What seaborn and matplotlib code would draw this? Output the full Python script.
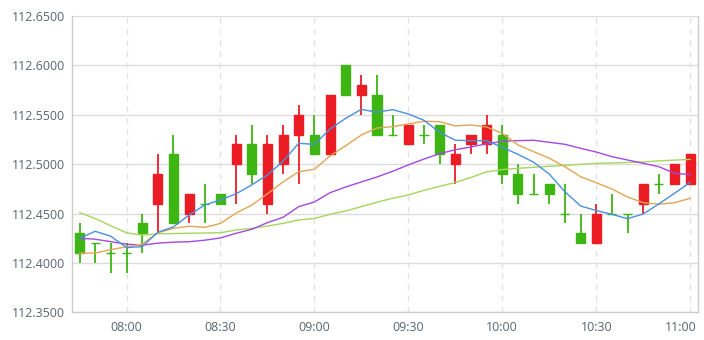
import numpy as np
import pandas as pd
import matplotlib
matplotlib.use("Agg")
import matplotlib.pyplot as plt
import matplotlib.transforms as mtransforms
import seaborn as sns

# ---- data ----
times = ["07:45", "07:50", "07:55", "08:00", "08:05", "08:10", "08:15", "08:20", "08:25", "08:30",
         "08:35", "08:40", "08:45", "08:50", "08:55", "09:00", "09:05", "09:10", "09:15", "09:20",
         "09:25", "09:30", "09:35", "09:40", "09:45", "09:50", "09:55", "10:00", "10:05", "10:10",
         "10:15", "10:20", "10:25", "10:30", "10:35", "10:40", "10:45", "10:50", "10:55", "11:00"]

open_ = [112.43, 112.42, 112.41, 112.41, 112.44, 112.46, 112.51, 112.45, 112.46, 112.47,
         112.50, 112.52, 112.46, 112.50, 112.53, 112.53, 112.51, 112.60, 112.57, 112.57,
         112.53, 112.52, 112.53, 112.54, 112.50, 112.52, 112.52, 112.53, 112.49, 112.47,
         112.48, 112.45, 112.43, 112.42, 112.45, 112.45, 112.46, 112.48, 112.48, 112.48]
high = [112.44, 112.42, 112.42, 112.42, 112.45, 112.51, 112.53, 112.47, 112.48, 112.47,
        112.53, 112.54, 112.53, 112.54, 112.56, 112.55, 112.57, 112.60, 112.59, 112.59,
        112.55, 112.54, 112.54, 112.54, 112.52, 112.53, 112.55, 112.54, 112.50, 112.49,
        112.48, 112.48, 112.45, 112.46, 112.47, 112.45, 112.48, 112.49, 112.50, 112.51]
low = [112.40, 112.40, 112.39, 112.39, 112.41, 112.43, 112.44, 112.44, 112.44, 112.46,
       112.46, 112.48, 112.45, 112.49, 112.48, 112.51, 112.51, 112.57, 112.55, 112.53,
       112.53, 112.52, 112.52, 112.50, 112.48, 112.51, 112.51, 112.48, 112.46, 112.47,
       112.46, 112.44, 112.42, 112.42, 112.45, 112.43, 112.45, 112.47, 112.48, 112.48]
close = [112.41, 112.42, 112.41, 112.41, 112.43, 112.49, 112.44, 112.47, 112.46, 112.46,
         112.52, 112.49, 112.52, 112.53, 112.55, 112.51, 112.57, 112.57, 112.58, 112.53,
         112.53, 112.54, 112.53, 112.51, 112.51, 112.53, 112.54, 112.49, 112.47, 112.47,
         112.47, 112.45, 112.42, 112.45, 112.45, 112.45, 112.48, 112.48, 112.50, 112.51]

ma5 = [112.425, 112.432, 112.427, 112.4155, 112.4165, 112.431, 112.4365, 112.4485, 112.4587, 112.4637,
       112.470, 112.479, 112.489, 112.503, 112.5211, 112.520, 112.5356, 112.5464, 112.5555, 112.5525,
       112.5552, 112.5508, 112.5444, 112.5322, 112.5242, 112.5238, 112.5238, 112.517, 112.510, 112.502,
       112.490, 112.472, 112.4577, 112.453, 112.4492, 112.4448, 112.4495, 112.4597, 112.4705, 112.4816]
ma10 = [112.410, 112.410, 112.4135, 112.4163, 112.419, 112.4305, 112.435, 112.4372, 112.436, 112.440,
        112.4505, 112.4585, 112.470, 112.482, 112.4924, 112.4948, 112.5083, 112.5187, 112.5295, 112.5366,
        112.538, 112.5407, 112.5434, 112.543, 112.5387, 112.5397, 112.5376, 112.5312, 112.5194, 112.5127,
        112.506, 112.4974, 112.4873, 112.4812, 112.4749, 112.4667, 112.461, 112.4594, 112.461, 112.4654]
ma20 = [112.425, 112.424, 112.4215, 112.419, 112.418, 112.420, 112.421, 112.4215, 112.423, 112.4253,
        112.430, 112.434, 112.4408, 112.4462, 112.457, 112.4617, 112.4711, 112.4769, 112.482, 112.487,
        112.4928, 112.4992, 112.5052, 112.5106, 112.5146, 112.5174, 112.5206, 112.5231, 112.5238, 112.5242,
        112.5221, 112.5201, 112.516, 112.5123, 112.5076, 112.5042, 112.5009, 112.4974, 112.4908, 112.4894]
ma30 = [112.451, 112.445, 112.4375, 112.4305, 112.428, 112.4295, 112.4297, 112.430, 112.4303, 112.4306,
        112.4333, 112.435, 112.4374, 112.440, 112.4435, 112.445, 112.4492, 112.4526, 112.457, 112.4615,
        112.4655, 112.4688, 112.4735, 112.4775, 112.4815, 112.4865, 112.4922, 112.4945, 112.4958, 112.4968,
        112.4978, 112.4988, 112.4998, 112.5008, 112.5012, 112.5017, 112.5022, 112.5033, 112.5041, 112.5048]

tick_labels = ["08:00", "08:30", "09:00", "09:30", "10:00", "10:30", "11:00"]
y_ticks = [112.35, 112.40, 112.45, 112.50, 112.55, 112.60, 112.65]

# ---- styling ----
sns.set_style("white")
plt.rcParams["font.family"] = ["Open Sans", "DejaVu Sans"]

RED = "#ec1c24"
GREEN = "#3db512"
TEXT = "#5b6470"

df = pd.DataFrame({"time": times, "open": open_, "high": high, "low": low, "close": close,
                   "ma5": ma5, "ma10": ma10, "ma20": ma20, "ma30": ma30})
df["x"] = np.arange(len(df))
colors = [RED if c > o else GREEN for o, c in zip(df["open"], df["close"])]

fig = plt.figure(figsize=(7.04, 3.40), dpi=100)
ax = fig.add_axes([71.7 / 704, 1 - 312.3 / 340, (698 - 71.7) / 704, (312.3 - 16) / 340])

# grid
for yv in y_ticks:
    ax.axhline(yv, color="#dcdcdc", lw=1.0, zorder=0)
tick_pos = [df.index[df["time"] == t][0] for t in tick_labels]
for xv in tick_pos:
    ax.axvline(xv, color="#e2e2e2", lw=1.0, ls=(0, (4, 4)), zorder=0)

# candles
ax.vlines(df["x"], df["low"], df["high"], colors=colors, lw=1.3, zorder=2)
bottoms = np.minimum(df["open"], df["close"])
heights = np.abs(df["close"] - df["open"])
ax.bar(df["x"], heights, bottom=bottoms, width=0.58, color=colors, edgecolor=colors,
       linewidth=1.0, zorder=2)

# moving averages
for col, c in [("ma30", "#a5d65e"), ("ma20", "#a449e0"), ("ma10", "#e2a652"), ("ma5", "#4a8fe0")]:
    sns.lineplot(data=df, x="x", y=col, ax=ax, color=c, lw=1.0, legend=False, zorder=3)

ax.set_xlim(-0.5, 39.5)
ax.set_ylim(112.35, 112.65)
ax.set_xticks(tick_pos)
ax.set_xticklabels(tick_labels)
ax.set_yticks(y_ticks)
ax.set_yticklabels([f"{v:.4f}" for v in y_ticks])
ax.set_xlabel("")
ax.set_ylabel("")
ax.tick_params(axis="both", length=0, labelsize=9, colors=TEXT)
ax.tick_params(axis="x", pad=6)
ax.tick_params(axis="y", pad=5)
for s in ["left", "bottom", "right"]:
    ax.spines[s].set_color("#cccccc")
    ax.spines[s].set_linewidth(1.0)
ax.spines["top"].set_visible(False)

# keep the last x label inside the figure (shifted left as in the reference)
last = ax.get_xticklabels()[-1]
last.set_transform(last.get_transform() + mtransforms.ScaledTranslation(-9 / 100, 0, fig.dpi_scale_trans))

fig.savefig("out.png", dpi=100)
